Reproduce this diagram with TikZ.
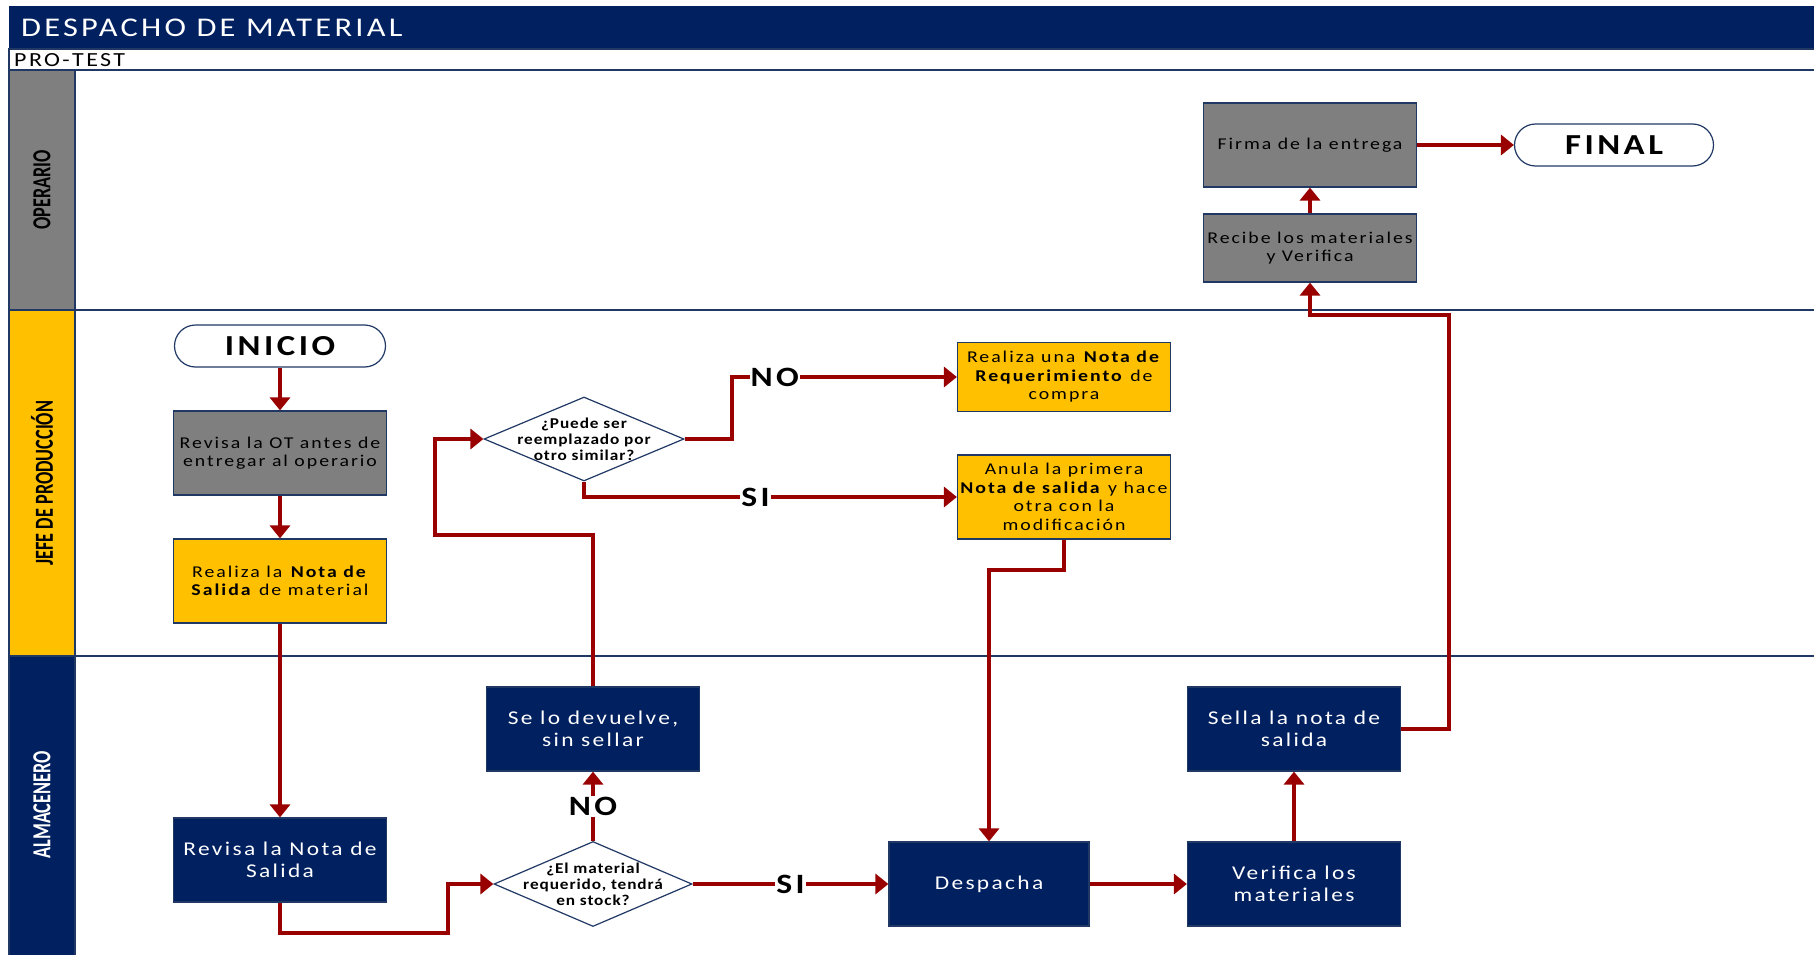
\documentclass[tikz,border=0pt]{standalone}
\usepackage{fontspec}
\setmainfont{Carlito}[LetterSpace=12, FakeStretch=1.2]
\newfontfamily\lanefont{Carlito}[FakeStretch=0.7]
\newfontfamily\decfont{Carlito}[LetterSpace=6, FakeStretch=1.15]
\usetikzlibrary{shapes.geometric,arrows.meta}

\definecolor{marino}{HTML}{002060}
\definecolor{gris}{HTML}{7F7F7F}
\definecolor{amarillo}{HTML}{FFC000}
\definecolor{flecha}{HTML}{990000}
\definecolor{borde}{HTML}{203864}

\tikzset{
  linea/.style={draw=borde, line width=1.5pt},
  carril/.style={rotate=90, font=\lanefont\bfseries\fontsize{26}{28}\selectfont},
  caja/.style={draw=borde, line width=1.2pt, minimum width=213pt, minimum height=84pt, inner sep=2pt, align=center},
  cajagris/.style={caja, fill=gris, font=\fontsize{16.5}{18.5}\selectfont},
  cajaamarilla/.style={caja, fill=amarillo, font=\fontsize{16.5}{18.5}\selectfont},
  cajamarino/.style={caja, fill=marino, text=white, font=\fontsize{19.5}{22}\selectfont},
  terminal/.style={draw=borde, line width=1.2pt, fill=white, rounded corners=21pt, minimum width=211pt, minimum height=42pt, font=\fontsize{29}{31}\selectfont\bfseries},
  decision/.style={diamond, draw=borde, line width=1.2pt, fill=white, minimum width=200pt, minimum height=84pt, inner sep=0pt},
  dectexto/.style={align=center, inner sep=0pt, font=\decfont\bfseries\fontsize{15}{16}\selectfont},
  flujo/.style={draw=flecha, line width=4pt, -{Triangle[length=13pt,width=20pt]}},
  resp/.style={fill=white, inner sep=1pt, font=\fontsize{28}{30}\selectfont\bfseries},
}

\begin{document}
\begin{tikzpicture}[x=1pt, y=-1pt]
  \useasboundingbox (0,0) rectangle (1814,955);
  \fill[white] (0,0) rectangle (1814,955);

  \fill[marino] (9,6) rectangle (1814,49);
  \node[anchor=west, inner sep=0pt, text=white, font=\fontsize{27}{29}\selectfont] (titulo) at (21,28) {DESPACHO DE MATERIAL};
  \draw[linea] (9,49) rectangle (1820,70);
  \node[anchor=west, inner sep=0pt, font=\fontsize{20}{22}\selectfont] (codigo) at (14,60) {PRO-TEST};

  \draw[linea, fill=gris] (9,70) rectangle (75,310);
  \draw[linea, fill=amarillo] (9,310) rectangle (75,656);
  \draw[linea, fill=marino] (9,656) rectangle (75,960);
  \draw[linea] (75,70) -- (1820,70);
  \draw[linea] (75,310) -- (1820,310);
  \draw[linea] (75,656) -- (1820,656);
  \node[carril] (operario) at (42,190) {OPERARIO};
  \node[carril] (jefe) at (42,483) {JEFE DE PRODUCCIÓN};
  \node[carril, text=white] (almacenero) at (42,805) {ALMACENERO};

  \node[terminal] (inicio) at (280,346) {INICIO};
  \node[cajagris] (revot) at (280,453) {Revisa la OT antes de\\entregar al operario};
  \node[cajaamarilla] (nsal) at (280,581) {Realiza la \textbf{Nota de}\\\textbf{Salida} de material};
  \node[decision, label={[dectexto]center:{¿Puede ser\\reemplazado por\\otro similar?}}] (puede) at (584,439) {};
  \node[cajaamarilla, minimum height=69pt] (req) at (1064,377) {Realiza una \textbf{Nota de}\\\textbf{Requerimiento} de\\compra};
  \node[cajaamarilla] (anula) at (1064,497) {Anula la primera\\\textbf{Nota de salida} y hace\\otra con la\\modificación};

  \node[cajagris] (firma) at (1310,145) {Firma de la entrega};
  \node[cajagris, minimum height=68pt] (recibe) at (1310,248) {Recibe los materiales\\y Verifica};
  \node[terminal, minimum width=199pt] (final) at (1614,145) {FINAL};

  \node[cajamarino] (revns) at (280,860) {Revisa la Nota de\\Salida};
  \node[decision, minimum width=198pt, minimum height=85pt, label={[dectexto]center:{¿El material\\requerido, tendrá\\en stock?}}] (stock) at (593,884) {};
  \node[cajamarino] (sindev) at (593,729) {Se lo devuelve,\\sin sellar};
  \node[cajamarino, minimum width=200pt] (despacha) at (989,884) {Despacha};
  \node[cajamarino] (verif) at (1294,884) {Verifica los\\materiales};
  \node[cajamarino] (sella) at (1294,729) {Sella la nota de\\salida};

  \coordinate (k1) at (448,933);
  \coordinate (k2) at (435,535);
  \coordinate (k3) at (732,377);
  \coordinate (k4) at (989,570);
  \coordinate (k5) at (1449,315);

  \draw[flujo] (inicio) -- (revot);
  \draw[flujo] (revot) -- (nsal);
  \draw[flujo] (nsal) -- (revns);
  \draw[flujo] (revns.south) |- (k1) |- (stock.west);
  \draw[flujo] (stock.north) -- node[resp] {NO} (sindev.south);
  \draw[flujo] (stock.east) -- node[resp] {SI} (despacha.west);
  \draw[flujo] (sindev.north) |- (k2) |- (puede.west);
  \draw[flujo] (puede.east) -| (k3) -- node[resp, pos=0.19] {NO} (req.west);
  \draw[flujo] (puede.south) |- node[resp, pos=0.73] {SI} (anula.west);
  \draw[flujo] (anula.south) |- (k4) -- (despacha.north);
  \draw[flujo] (despacha) -- (verif);
  \draw[flujo] (verif) -- (sella);
  \draw[flujo] (sella.east) -| (k5) -| (recibe.south);
  \draw[flujo] (recibe) -- (firma);
  \draw[flujo] (firma) -- (final);
\end{tikzpicture}
\end{document}
